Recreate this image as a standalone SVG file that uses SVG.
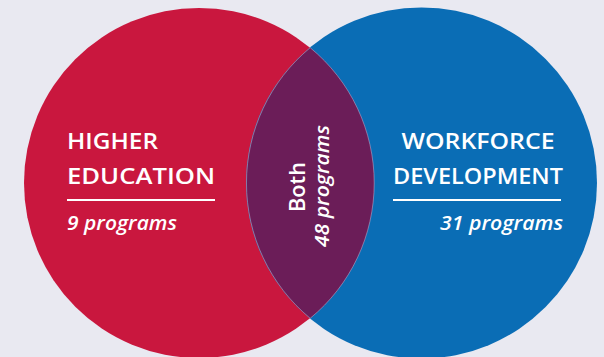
<svg xmlns="http://www.w3.org/2000/svg" width="604" height="357" viewBox="0 0 604 357">
<style>
.h{font-family:"Open Sans","Liberation Sans",Arial,sans-serif;font-size:21px;font-weight:600;fill:#fff}
.i{font-family:"Open Sans","Liberation Sans",Arial,sans-serif;font-size:20px;font-style:italic;font-weight:600;fill:#fff}
.rule{stroke:#fff;stroke-width:2.2}
</style>
<rect width="604" height="357" fill="#e9e9f1"/>
<g id="higher-education">
<circle cx="199" cy="183" r="175" fill="#c9173e"/>
<text class="h" x="67" y="149" textLength="91" lengthAdjust="spacingAndGlyphs">HIGHER</text>
<text class="h" x="67" y="184" textLength="148" lengthAdjust="spacingAndGlyphs">EDUCATION</text>
<line class="rule" x1="67" y1="200" x2="215" y2="200"/>
<text class="i" x="67" y="230" textLength="110" lengthAdjust="spacingAndGlyphs">9 programs</text>
</g>
<g id="workforce-development">
<circle cx="421.5" cy="183" r="175.5" fill="#0a6db5"/>
<text class="h" x="478" y="149" text-anchor="middle" textLength="153" lengthAdjust="spacingAndGlyphs">WORKFORCE</text>
<text class="h" x="478" y="184" text-anchor="middle" textLength="170" lengthAdjust="spacingAndGlyphs">DEVELOPMENT</text>
<line class="rule" x1="393" y1="200" x2="561" y2="200"/>
<text class="i" x="563" y="230" text-anchor="end" textLength="123" lengthAdjust="spacingAndGlyphs">31 programs</text>
</g>
<g id="both">
<path d="M310.2,47.7 A175.5,175.5 0 0 0 310.2,318.3 A175,175 0 0 0 310.2,47.7 Z" fill="#6b1d58" stroke="#d8b8d0" stroke-opacity="0.6" stroke-width="0.8"/>
<text class="h" transform="translate(305,187) rotate(-90)" text-anchor="middle" textLength="50" lengthAdjust="spacingAndGlyphs">Both</text>
<text class="i" transform="translate(329,186) rotate(-90)" text-anchor="middle" textLength="122" lengthAdjust="spacingAndGlyphs">48 programs</text>
</g>
</svg>
